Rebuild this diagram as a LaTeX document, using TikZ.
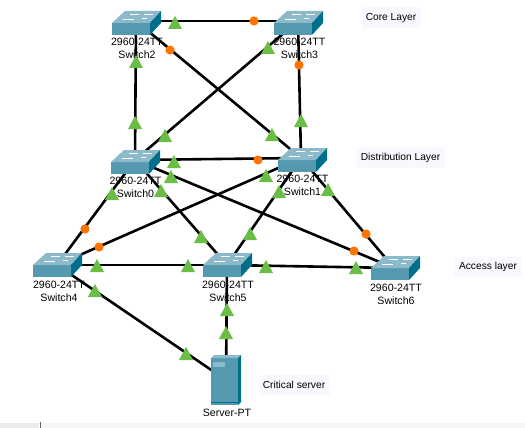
\documentclass[tikz,border=0pt]{standalone}
\usepackage{fontspec}
\setmainfont{Liberation Sans}
\definecolor{swfront}{HTML}{5599B0}
\definecolor{swtop}{HTML}{8DBACB}
\definecolor{swside}{HTML}{00708A}
\definecolor{lightg}{HTML}{6ABD45}
\definecolor{lighto}{HTML}{FF7300}
\definecolor{notebg}{HTML}{F8F8FF}
\tikzset{
  device/.style={inner sep=0pt,minimum size=0pt,outer sep=0pt},
  link/.style={line width=2.6pt,black},
  devlabel/.style={inner sep=0pt,align=center,font=\fontsize{10.6}{12.9}\selectfont},
  note/.style={inner sep=0pt,fill=notebg,font=\fontsize{10.2}{12.9}\selectfont},
}
\newcommand{\swicon}[2]{%
  \begin{scope}[shift={(#1,#2)}]
    \fill[swfront] (0,0) rectangle (38,12);
    \fill[swtop] (0,0) -- (13,-12) -- (49,-12) -- (38,0) -- cycle;
    \fill[swside] (38,0) -- (49,-12) -- (49,0) -- (38,12) -- cycle;
    \draw[white,line width=.7pt] (18,-9) -- (27,-9) (32,-9) -- (41,-9) (11,-4) -- (22,-4) (30,-5) -- (35,-5);
  \end{scope}}
\newcommand{\tri}[2]{\fill[lightg] (#1-7,#2) -- (#1,#2-13) -- (#1+7,#2) -- cycle;}
\newcommand{\dotl}[2]{\fill[lighto] (#1,#2) circle (4.6);}
\begin{document}
\begin{tikzpicture}[x=1pt,y=-1pt]
\useasboundingbox (0,0) rectangle (525,428);
\fill[white] (0,0) rectangle (525,428);
\fill[black!4] (41,423) rectangle (525,428);
\fill[black!8] (0,423) rectangle (39,428);
\draw[black!60,line width=1pt] (40,422) -- (40,428);
% notes
\node[note,minimum width=59pt,minimum height=21pt] (core) at (391,17.5) {Core Layer};
\node[note,minimum width=89pt,minimum height=21pt] (dist) at (400.5,157.5) {Distribution Layer};
\node[note,minimum width=68pt,minimum height=20pt] (acc) at (488,267) {Access layer};
\node[note,minimum width=71pt,minimum height=20pt] (crit) at (294,385) {Critical server};
% device anchors
\node[device] (S2) at (136,21) {};
\node[device] (S3) at (298,21) {};
\node[device] (S0) at (135,160) {};
\node[device] (S1) at (301,158) {};
\node[device] (S4) at (57,265) {};
\node[device] (S5) at (227,265) {};
\node[device] (S6) at (394,268) {};
\node[device] (SV) at (226,380) {};
% links
\foreach \a/\b in {S2/S3,S2/S0,S3/S1,S2/S1,S3/S0,S0/S1,S0/S4,S0/S5,S0/S6,S1/S4,S1/S5,S1/S6,S4/S5,S5/S6,S4/SV,S5/SV}
  \draw[link] (\a) -- (\b);
% icons
\swicon{112}{23}\swicon{274}{23}\swicon{111}{162}\swicon{278}{160}
\swicon{33}{265}\swicon{203}{265}\swicon{371}{268}
% server
\fill[swfront] (211,358) rectangle (238,405);
\fill[swtop] (211,358) -- (214,355) -- (241,355) -- (238,358) -- cycle;
\fill[swside] (238,358) -- (241,355) -- (241,402) -- (238,405) -- cycle;
\fill[swtop] (213,362) rectangle (225,367);
\draw[swside,line width=.5pt] (211,402.5) -- (238,402.5);
% labels
\node[devlabel] (L2) at (137,48) {2960-24TT\\Switch2};
\node[devlabel] (L3) at (299.5,48) {2960-24TT\\Switch3};
\node[devlabel] (L0) at (135.5,187) {2960-24TT\\Switch0};
\node[devlabel] (L1) at (302.5,185.5) {2960-24TT\\Switch1};
\node[devlabel] (L4) at (59,291) {2960-24TT\\Switch4};
\node[devlabel] (L5) at (228,291) {2960-24TT\\Switch5};
\node[devlabel] (L6) at (396,294) {2960-24TT\\Switch6};
\node[devlabel] (LS) at (227,413) {Server-PT};
% link lights
\foreach \x/\y in {175/29,136/68,135/129,268/54,301/127,165/142,272/141,174/168,171/183,112/200,161/197,266/182,279/198,328/196,201/243,250/240,97/272,188/272,266/273,356/274,95/297,227/316,226/339,186/360}
  {\tri{\x}{\y}}
\foreach \x/\y in {254/21,170/50,299/65,258/160,99/247,354/251,85/229,366/234}
  {\dotl{\x}{\y}}
\end{tikzpicture}
\end{document}
